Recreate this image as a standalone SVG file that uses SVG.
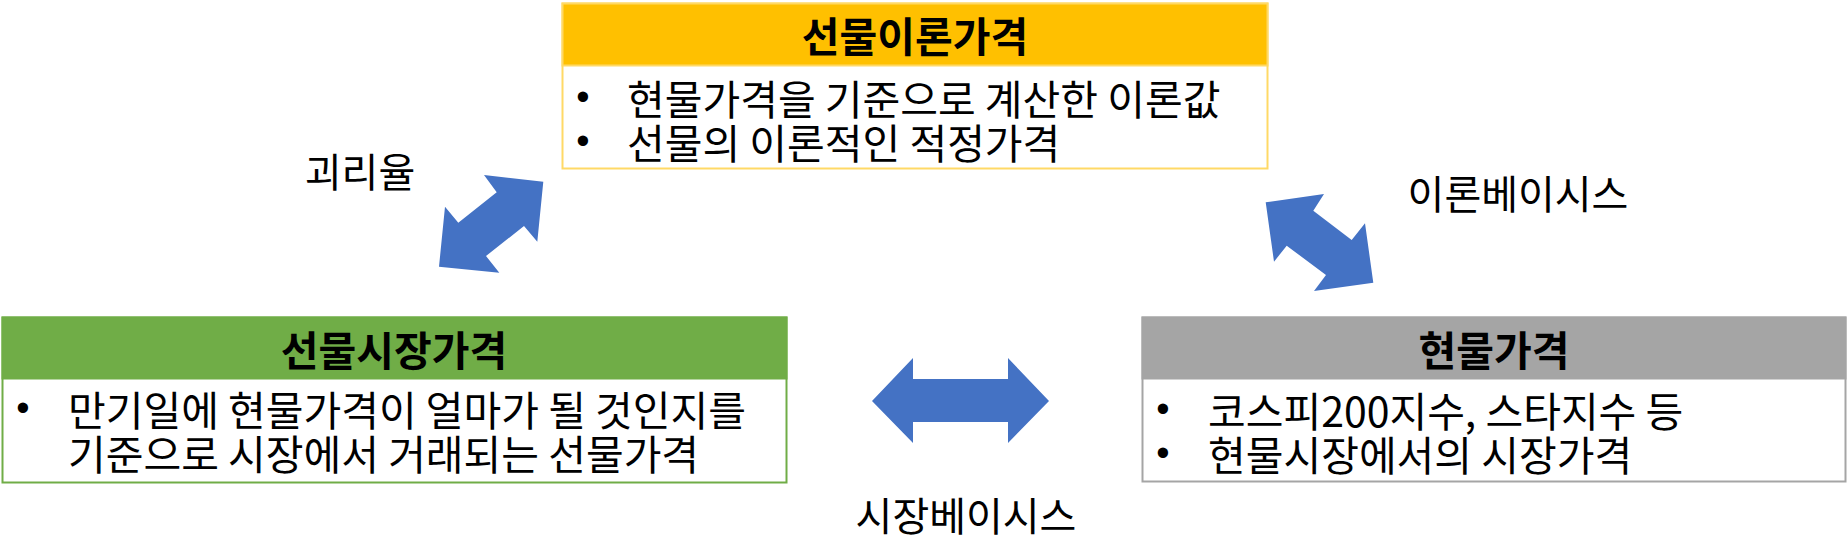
<svg xmlns="http://www.w3.org/2000/svg" width="1847" height="559" viewBox="0 0 1847 559">
<style>
.t{font-family:"Noto Sans CJK KR","Noto Sans",sans-serif;fill:#000;dominant-baseline:central}
.h{font-size:41px;font-weight:bold;text-anchor:middle}
.b{font-size:41px}
.bul{font-family:"Liberation Sans",Arial,sans-serif;font-size:38px;text-anchor:middle;dominant-baseline:central;fill:#000}
.lbl{font-size:40px;text-anchor:middle}
.arrow{fill:#4472C4}
</style>
<rect width="1847" height="559" fill="#fff"/>
<g id="node-theory">
<rect x="562.5" y="3.5" width="705" height="165" fill="#fff" stroke="#FFD966" stroke-width="2"/>
<rect x="562.5" y="3.5" width="705" height="62" fill="#FFC000" stroke="#FFD966" stroke-width="2"/>
<text class="t h" x="915" y="34">선물이론가격</text>
<text class="bul" x="583" y="97">•</text>
<text class="t b" x="627" y="97">현물가격을 기준으로 계산한 이론값</text>
<text class="bul" x="583" y="141">•</text>
<text class="t b" x="627" y="141">선물의 이론적인 적정가격</text>
</g>
<g id="node-futures">
<rect x="2.5" y="317.5" width="784" height="165" fill="#fff" stroke="#70AD47" stroke-width="2"/>
<rect x="2.5" y="317.5" width="784" height="61" fill="#70AD47" stroke="#70AD47" stroke-width="2"/>
<text class="t h" x="394" y="348">선물시장가격</text>
<text class="bul" x="23" y="408">•</text>
<text class="t b" x="68" y="408">만기일에 현물가격이 얼마가 될 것인지를</text>
<text class="t b" x="68" y="452">기준으로 시장에서 거래되는 선물가격</text>
</g>
<g id="node-spot">
<rect x="1142.5" y="317.5" width="703" height="164" fill="#fff" stroke="#A5A5A5" stroke-width="2"/>
<rect x="1142.5" y="317.5" width="703" height="61" fill="#A5A5A5" stroke="#A5A5A5" stroke-width="2"/>
<text class="t h" x="1494" y="348">현물가격</text>
<text class="bul" x="1163" y="409">•</text>
<text class="t b" x="1208" y="409">코스피200지수, 스타지수 등</text>
<text class="bul" x="1163" y="453">•</text>
<text class="t b" x="1208" y="453">현물시장에서의 시장가격</text>
</g>
<g id="connectors">
<polygon class="arrow" points="484,175 543.3,181.7 537.3,241.7 524,226 486,256 499.3,272.7 439,266.7 445,206.7 458.3,222.7 496.7,192.3"/>
<polygon class="arrow" points="1265.7,202.3 1324,194 1313.3,210.7 1351.7,240 1365,223.3 1373.3,282.7 1314,291 1326,275 1286.7,245.7 1274,261.7"/>
<polygon class="arrow" points="872,401 913,358 913,379 1008,379 1008,358 1049,401 1008,443 1008,422 913,422 913,443"/>
<text class="t lbl" x="360" y="170">괴리율</text>
<text class="t lbl" x="1518" y="192">이론베이시스</text>
<text class="t lbl" x="966" y="514">시장베이시스</text>
</g>
</svg>
